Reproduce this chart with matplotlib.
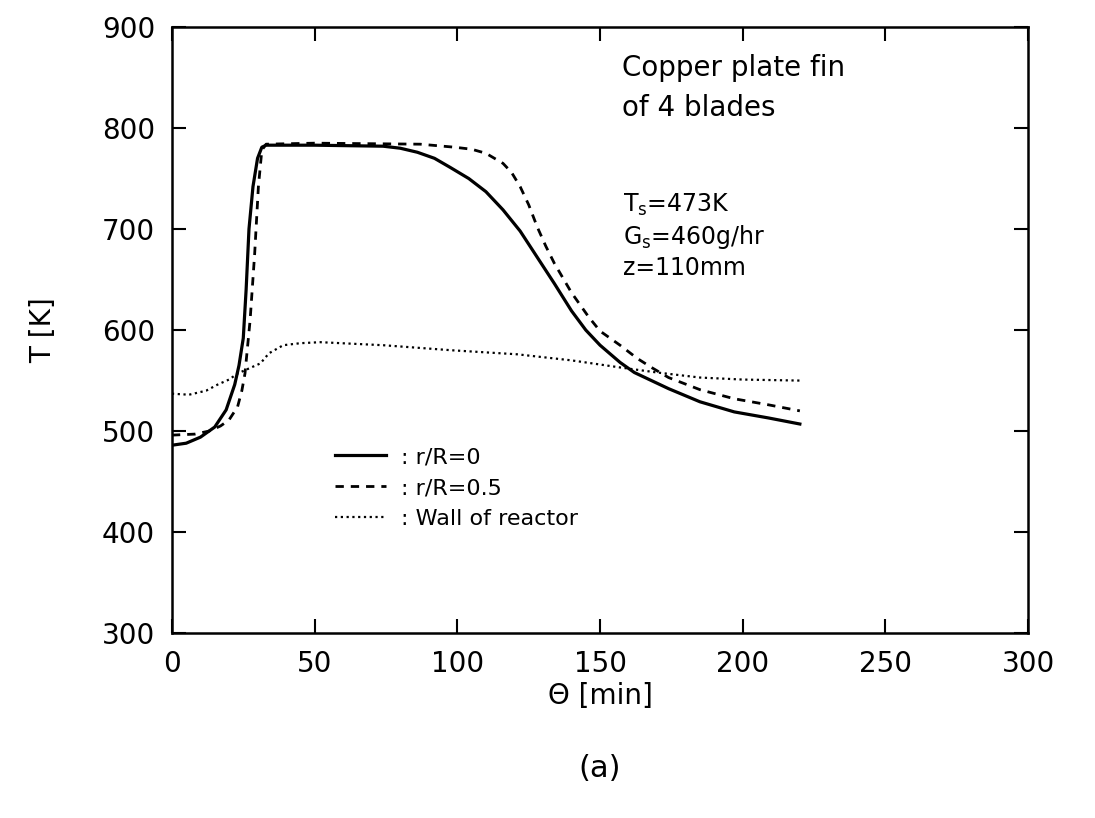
import matplotlib
matplotlib.use("Agg")
import matplotlib.pyplot as plt

# r/R = 0 (solid)
theta_r0 = [0, 5, 10, 15, 19, 22, 23.5, 25, 26, 27, 28.4, 30, 31.5, 33, 50, 74, 80, 86, 92, 97.5, 104, 110, 116, 122, 128, 134, 140, 145, 150, 157, 162, 168, 174, 185, 197, 209, 220]
T_r0 = [486, 488, 494, 504, 521, 546, 565, 592, 640, 700, 742, 770, 781, 783, 783, 782, 780, 776, 770, 761, 750, 737, 719, 698, 672, 646, 619, 600, 585, 568, 558, 550, 542, 529, 519, 513, 507]

# r/R = 0.5 (dashed)
theta_r05 = [0, 8, 13, 17, 20, 23, 24.5, 25.6, 27.4, 29, 30.3, 31.5, 33, 50, 87, 99, 105, 110, 116, 119, 122, 125, 128, 131, 134, 140, 146, 150, 157, 163, 168, 174, 185, 197, 209, 220]
T_r05 = [496, 497, 500, 505, 511, 524, 540, 557, 610, 676, 742, 778, 784, 785, 784, 781, 779, 775, 765, 756, 742, 724, 702, 683, 666, 637, 613, 599, 585, 572, 563, 553, 541, 532, 526, 520]

# wall of reactor (dotted)
theta_wall = [0, 6, 12, 16, 20, 23, 27, 31, 34, 39, 45, 52, 74, 98, 121, 140, 157, 170, 185, 200, 220]
T_wall = [537, 536, 540, 546, 551, 557, 562, 567, 577, 585, 587, 588, 585, 580, 576, 570, 563, 558, 553, 551, 550]

xticks = [0, 50, 100, 150, 200, 250, 300]
yticks = [300, 400, 500, 600, 700, 800, 900]

plt.rcParams['font.family'] = ['DejaVu Sans']

fig = plt.figure(figsize=(10.95, 8.18), dpi=100)
ax = fig.add_axes([0.157, 0.226, 0.782, 0.741])

ax.plot(theta_r0, T_r0, color='black', lw=2.3, ls='-', label=': r/R=0')
ax.plot(theta_r05, T_r05, color='black', lw=2.0, ls=(0, (3, 2.5)), label=': r/R=0.5')
ax.plot(theta_wall, T_wall, color='black', lw=1.6, ls=(0, (1, 1.6)), label=': Wall of reactor')

ax.set_xlim(0, 300)
ax.set_ylim(300, 900)
ax.set_xticks(xticks)
ax.set_yticks(yticks)
ax.tick_params(direction='in', length=10, width=1.5, labelsize=20,
               top=True, right=True, pad=12)
for s in ax.spines.values():
    s.set_linewidth(1.8)

ax.set_xlabel('Θ [min]', fontsize=20, labelpad=3)
ax.set_ylabel('T [K]', fontsize=20, labelpad=32)

ax.text(0.526, 0.955, 'Copper plate fin\nof 4 blades', transform=ax.transAxes,
        fontsize=20, va='top', ha='left', linespacing=1.55)
ax.text(0.527, 0.728, 'T$_\\mathrm{s}$=473K\nG$_\\mathrm{s}$=460g/hr\nz=110mm',
        transform=ax.transAxes, fontsize=17, va='top', ha='left', linespacing=1.25)

ax.legend(loc='upper left', bbox_to_anchor=(0.19, 0.307), frameon=False,
          fontsize=16, handlelength=2.3, handletextpad=0.7, labelspacing=0.5,
          borderpad=0, borderaxespad=0)

fig.text(0.548, 0.06, '(a)', fontsize=22, ha='center', va='center')

fig.savefig('out.png', dpi=100)
